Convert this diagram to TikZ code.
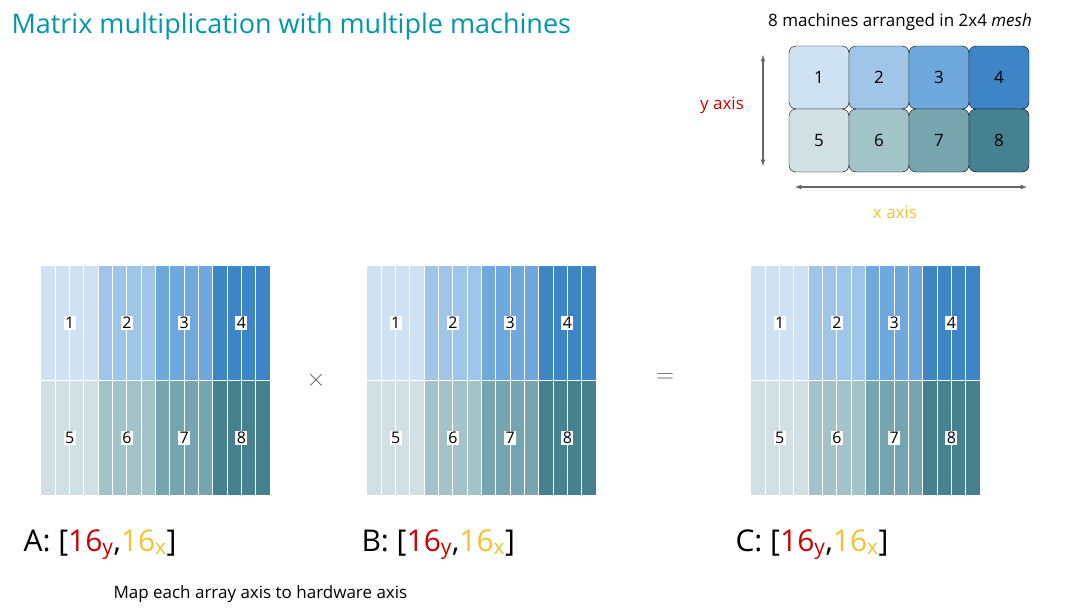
\documentclass[tikz,border=0pt]{standalone}
\usepackage{fontspec}
\setmainfont{Open Sans}
\begin{document}
\definecolor{c1}{HTML}{CFE2F3}\definecolor{c2}{HTML}{9FC5E8}\definecolor{c3}{HTML}{6FA8DC}\definecolor{c4}{HTML}{3D85C6}
\definecolor{c5}{HTML}{D0E0E3}\definecolor{c6}{HTML}{A2C4C9}\definecolor{c7}{HTML}{76A5AF}\definecolor{c8}{HTML}{45818E}
\definecolor{ttl}{HTML}{0097A7}\definecolor{red}{HTML}{CC0000}\definecolor{yel}{HTML}{F1C232}\definecolor{ar}{HTML}{666666}
\begin{tikzpicture}[x=1pt,y=-1pt,
  cell/.style={draw=black,rounded corners=7pt,minimum width=60pt,minimum height=63pt,font=\fontsize{17}{20}\selectfont},
  lab/.style={fill=white,inner sep=1.5pt,font=\fontsize{16}{18}\selectfont},
  ax/.style={draw=ar,line width=1.2pt,<->,>=latex},
  big/.style={font=\fontsize{30}{34}\selectfont,anchor=base west}]
\useasboundingbox (0,0) rectangle (1080,611);
\node[anchor=base west,text=ttl,font=\fontsize{27}{30}\selectfont] (title) at (8,33) {Matrix multiplication with multiple machines};
\node[font=\fontsize{17}{20}\selectfont] (meshlab) at (900,22) {8 machines arranged in 2x4 \textit{mesh}};
\foreach \i in {1,...,4}{
  \node[cell,fill=c\i] (m\i) at ({789+60*(\i-0.5)},77.5) {\i};
  \pgfmathtruncatemacro\j{\i+4}
  \node[cell,fill=c\j] (m\j) at ({789+60*(\i-0.5)},140.5) {\j};
}
\coordinate (yt) at (763,55);\coordinate (yb) at (763,166);
\draw[ax] (yt) -- (yb);
\node[text=red,font=\fontsize{17}{20}\selectfont] (ylab) at (722,105) {y axis};
\coordinate (xl) at (795,187);\coordinate (xr) at (1027,187);
\draw[ax] (xl) -- (xr);
\node[text=yel,font=\fontsize{17}{20}\selectfont] (xlab) at (895,212) {x axis};
\foreach \name/\x in {A/41,B/367,C/751}{
  \foreach \b in {1,...,4}{
    \pgfmathtruncatemacro\j{\b+4}
    \fill[c\b] ({\x+57.25*(\b-1)},266) rectangle ({\x+57.25*\b},380.5);
    \fill[c\j] ({\x+57.25*(\b-1)},380.5) rectangle ({\x+57.25*\b},495);
  }
  \foreach \k in {1,...,15}{\draw[white,line width=1pt] ({\x+14.31*\k},266) -- ({\x+14.31*\k},495);}
  \draw[white,line width=1.2pt] (\x,380.5) -- ({\x+229},380.5);
  \foreach \b in {1,...,4}{
    \pgfmathtruncatemacro\j{\b+4}
    \node[lab] (\name l\b) at ({\x+57.25*(\b-0.5)},323) {\b};
    \node[lab] (\name l\j) at ({\x+57.25*(\b-0.5)},438) {\j};
  }
}
\node[ar,font=\fontsize{40}{40}\selectfont\bfseries] (times) at (316,380) {$\times$};
\node[ar,font=\fontsize{44}{44}\selectfont] (eq) at (665,378) {$=$};
\node[big] (la) at (20,551) {A: [\textcolor{red}{16\textsubscript{y}},\textcolor{yel}{16\textsubscript{x}}]};
\node[big] (lb) at (358,551) {B: [\textcolor{red}{16\textsubscript{y}},\textcolor{yel}{16\textsubscript{x}}]};
\node[big] (lc) at (732,551) {C: [\textcolor{red}{16\textsubscript{y}},\textcolor{yel}{16\textsubscript{x}}]};
\node[anchor=base west,font=\fontsize{17}{20}\selectfont] (map) at (110,598) {Map each array axis to hardware axis};
\end{tikzpicture}
\end{document}
